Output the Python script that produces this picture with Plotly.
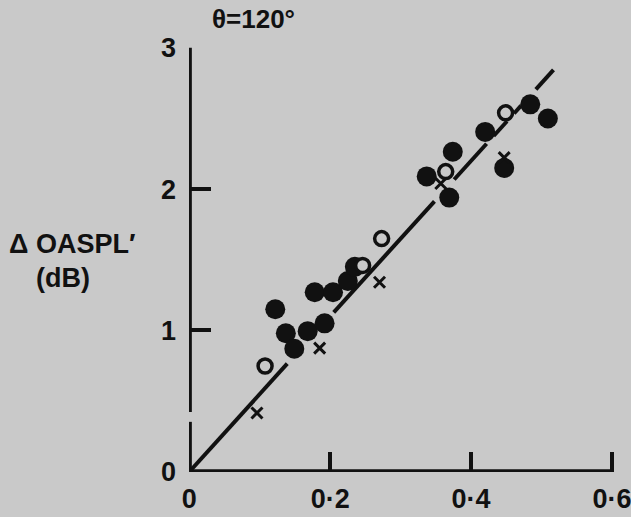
import plotly.graph_objects as go

# ---- data ----
filled_x = [0.122, 0.137, 0.149, 0.168, 0.192, 0.178, 0.204, 0.225, 0.235,
            0.337, 0.374, 0.369, 0.420, 0.484, 0.509, 0.447]
filled_y = [1.15, 0.98, 0.87, 0.995, 1.05, 1.27, 1.27, 1.35, 1.45,
            2.09, 2.265, 1.94, 2.405, 2.60, 2.50, 2.15]

open_x = [0.1075, 0.246, 0.273, 0.364, 0.449]
open_y = [0.748, 1.46, 1.65, 2.124, 2.54]

cross_x = [0.096, 0.185, 0.270, 0.447, 0.357]
cross_y = [0.416, 0.875, 1.341, 2.223, 2.04]

fit_slope = 5.5
seg_start = [0.0, 0.205, 0.376, 0.432, 0.461, 0.492]
seg_end = [0.139, 0.348, 0.422, 0.451, 0.471, 0.517]

x_ticks = [0, 0.2, 0.4, 0.6]
x_ticktext = ["0", "0·2", "0·4", "0·6"]
y_ticks = [0, 1, 2, 3]
y_ticktext = ["0", "1", "2", "3"]

BG = "#c9c9c9"
INK = "#111111"
FONT = "Liberation Sans"

fit_x, fit_y = [], []
for a, b in zip(seg_start, seg_end):
    fit_x += [a, b, None]
    fit_y += [fit_slope * a, fit_slope * b, None]

fig = go.Figure()
fig.add_trace(go.Scatter(x=fit_x, y=fit_y, mode="lines",
                         line=dict(color=INK, width=4), hoverinfo="skip",
                         showlegend=False, cliponaxis=False))
fig.add_trace(go.Scatter(x=filled_x, y=filled_y, mode="markers",
                         marker=dict(symbol="circle", size=20, color=INK,
                                     line=dict(width=0)),
                         showlegend=False, cliponaxis=False))
fig.add_trace(go.Scatter(x=cross_x, y=cross_y, mode="markers",
                         marker=dict(symbol="x-thin", size=11,
                                     line=dict(color=INK, width=3)),
                         showlegend=False, cliponaxis=False))
fig.add_trace(go.Scatter(x=open_x, y=open_y, mode="markers",
                         marker=dict(symbol="circle", size=14, color=BG,
                                     line=dict(color=INK, width=3.5)),
                         showlegend=False, cliponaxis=False))

# axis lines (y axis has a small break, as in the original)
fig.add_shape(type="line", xref="x", yref="y", x0=0, y0=0, x1=0.6, y1=0,
              line=dict(color=INK, width=5), layer="below")
fig.add_shape(type="line", xref="x", yref="y", x0=0, y0=0, x1=0, y1=0.353,
              line=dict(color=INK, width=5), layer="below")
fig.add_shape(type="line", xref="x", yref="y", x0=0, y0=0.423, x1=0, y1=3,
              line=dict(color=INK, width=5), layer="below")

tickfont = dict(family=FONT, size=27, color=INK, weight="bold")

fig.update_xaxes(range=[-0.0005, 0.6015], tickvals=x_ticks, ticktext=x_ticktext,
                 ticks="inside", ticklen=20, tickwidth=4, tickcolor=INK,
                 showgrid=False, zeroline=False, showline=False,
                 tickfont=tickfont, ticklabelstandoff=8,
                 ticklabeloverflow="allow", automargin=False)
fig.update_yaxes(range=[-0.002, 3.006], tickvals=y_ticks, ticktext=y_ticktext,
                 ticks="inside", ticklen=22, tickwidth=4, tickcolor=INK,
                 showgrid=False, zeroline=False, showline=False,
                 tickfont=tickfont, ticklabelstandoff=12,
                 ticklabeloverflow="allow", automargin=False)

ann_font = dict(family=FONT, size=27, color=INK, weight="bold")
fig.add_annotation(x=0.153, y=1.066, xref="paper", yref="paper", text="θ=120°",
                   xanchor="center", yanchor="middle", showarrow=False,
                   font=dict(family=FONT, size=26, color=INK, weight="bold"))
fig.add_annotation(x=-0.276, y=0.536, xref="paper", yref="paper", text="Δ OASPL′",
                   xanchor="center", yanchor="middle", showarrow=False,
                   font=ann_font)
fig.add_annotation(x=-0.297, y=0.456, xref="paper", yref="paper", text="(dB)",
                   xanchor="center", yanchor="middle", showarrow=False,
                   font=ann_font)

fig.update_layout(width=631, height=517,
                  margin=dict(l=189, r=18, t=47, b=45),
                  paper_bgcolor=BG, plot_bgcolor=BG, showlegend=False)

fig.write_html("out.html")
